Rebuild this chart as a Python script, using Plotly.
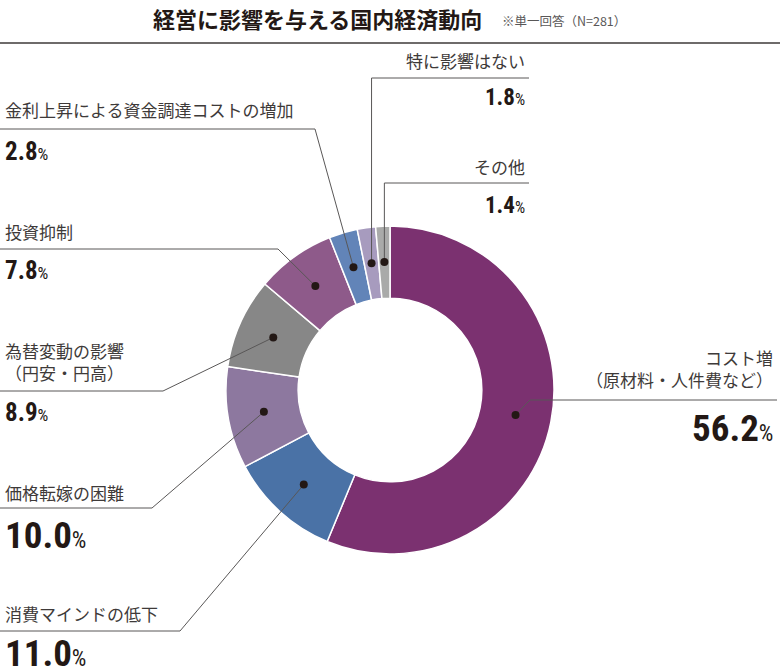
import math
import plotly.graph_objects as go

# データ（単一回答 N=281）
labels = ["コスト増（原材料・人件費など）", "消費マインドの低下", "価格転嫁の困難",
          "為替変動の影響（円安・円高）", "投資抑制", "金利上昇による資金調達コストの増加",
          "特に影響はない", "その他"]
label_text = ["コスト増<br>（原材料・人件費など）", "消費マインドの低下", "価格転嫁の困難",
              "為替変動の影響<br>（円安・円高）", "投資抑制", "金利上昇による資金調達コストの増加",
              "特に影響はない", "その他"]
values = [56.2, 11.0, 10.0, 8.9, 7.8, 2.8, 1.8, 1.4]
colors = ["#7B3170", "#4A72A6", "#8D789F", "#878787", "#8E5A8A", "#6284B8", "#A79BBE", "#A9AAA9"]

title = "経営に影響を与える国内経済動向"
note = "※単一回答（N=281）"

W, H = 780, 672
CX, CY, R_OUT = 390, 390, 164
HOLE = 0.56
R_DOT = 128

LABEL_FONT = "Noto Sans CJK JP"
NUM_FONT = "Roboto Condensed, DejaVu Sans Condensed, Liberation Sans Narrow, Roboto, sans-serif"
TXT = "#3e3a39"
NUM = "#231815"

# ラベル配置（位置のみ）
layout_spec = [
    dict(side="right", tx=775, ly=368, ry=400, elbow=(530, 400), end=777, ny=428, ns=37, ps=23),
    dict(side="left", tx=3, ly=613, ry=631, elbow=(180, 631), end=0, ny=653, ns=37, ps=23),
    dict(side="left", tx=3, ly=492, ry=508, elbow=(152, 508), end=0, ny=535, ns=37, ps=23),
    dict(side="left", tx=3, ly=361, ry=391, elbow=(163, 391), end=0, ny=412, ns=25, ps=17),
    dict(side="left", tx=3, ly=231, ry=249, elbow=(278, 249), end=0, ny=270, ns=25, ps=17),
    dict(side="left", tx=3, ly=109, ry=129, elbow=(315, 129), end=0, ny=151, ns=25, ps=17),
    dict(side="top", tx=527, ly=60, ry=78, elbow=None, end=529, ny=97, ns=23, ps=16),
    dict(side="top", tx=527, ly=166, ry=183, elbow=None, end=529, ny=205, ns=23, ps=16),
]

fig = go.Figure()

fig.add_trace(go.Pie(
    labels=labels, values=values, sort=False, direction="clockwise", rotation=0,
    hole=HOLE, textinfo="none", hoverinfo="label+percent",
    marker=dict(colors=colors, line=dict(color="white", width=1.5)),
    domain=dict(x=[(CX - R_OUT) / W, (CX + R_OUT) / W],
                y=[(H - CY - R_OUT) / H, (H - CY + R_OUT) / H]),
    showlegend=False,
))

total = sum(values)
shapes = []
annotations = []
cum = 0
for i, v in enumerate(values):
    # スライス中央に黒丸を置く
    th = (cum + v / 2) / total * 2 * math.pi
    cum += v
    dx = CX + R_DOT * math.sin(th)
    dy = CY - R_DOT * math.cos(th)
    s = layout_spec[i]
    if s["side"] == "top":
        path = f"M{dx},{dy} L{dx},{s['ry']} L{s['end']},{s['ry']}"
    else:
        ex, ey = s["elbow"]
        path = f"M{dx},{dy} L{ex},{ey} L{s['end']},{s['ry']}"
    shapes.append(dict(type="path", path=path, xref="x", yref="y", layer="above",
                       line=dict(color="#595757", width=1)))
    shapes.append(dict(type="circle", xref="x", yref="y", layer="above",
                       x0=dx - 4, x1=dx + 4, y0=dy - 4, y1=dy + 4,
                       fillcolor="#231815", line=dict(width=0)))
    anchor = "left" if s["side"] == "left" else "right"
    annotations.append(dict(x=s["tx"], y=s["ly"], xref="x", yref="y", text=label_text[i],
                            showarrow=False, xanchor=anchor, yanchor="middle", align=anchor,
                            font=dict(family=LABEL_FONT, size=17, color=TXT)))
    annotations.append(dict(x=s["tx"], y=s["ny"], xref="x", yref="y",
                            text=f"<b>{v:.1f}</b><span style='font-size:{s['ps']}px'>%</span>",
                            showarrow=False, xanchor=anchor, yanchor="middle",
                            font=dict(family=NUM_FONT, size=s["ns"], color=NUM)))

# タイトルと区切り線
annotations.append(dict(x=317, y=18, xref="x", yref="y", text=f"<b>{title}</b>", showarrow=False,
                        xanchor="center", yanchor="middle",
                        font=dict(family=LABEL_FONT, size=22, color=NUM)))
annotations.append(dict(x=500, y=20, xref="x", yref="y", text=note, showarrow=False,
                        xanchor="left", yanchor="middle",
                        font=dict(family=LABEL_FONT, size=12.5, color="#595757")))
shapes.append(dict(type="line", xref="x", yref="y", x0=0, x1=W, y0=43, y1=43,
                   line=dict(color="#3e3a39", width=1.5)))

fig.update_layout(
    width=W, height=H,
    margin=dict(l=0, r=0, t=0, b=0),
    paper_bgcolor="white", plot_bgcolor="white",
    xaxis=dict(range=[0, W], visible=False, fixedrange=True),
    yaxis=dict(range=[H, 0], visible=False, fixedrange=True),
    shapes=shapes, annotations=annotations,
)

fig.write_html("out.html", config={"displayModeBar": False},
               post_script="document.body.style.margin='0';")
